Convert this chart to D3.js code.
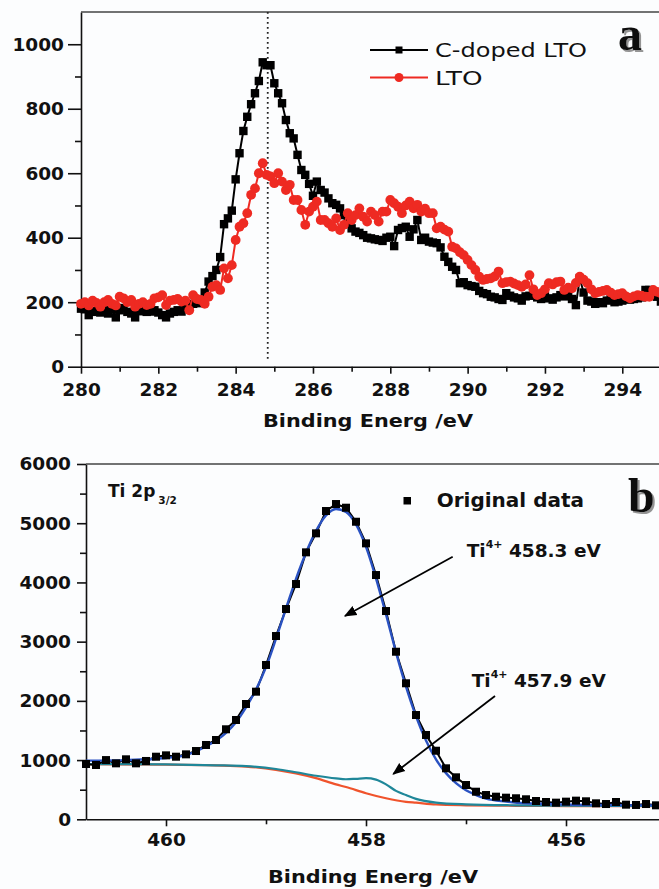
<!DOCTYPE html>
<html lang="en">
<head>
<meta charset="UTF-8">
<title>XPS spectra: C 1s and Ti 2p3/2</title>
<script src="https://d3js.org/d3.v7.min.js"></script>
<style>
  body { margin: 0; background: #fcfdfe; }
  svg { display: block; font-family: 'DejaVu Sans', sans-serif; }
</style>
</head>
<body>
<svg id="chart" width="659" height="889"></svg>
<script>
// ---- panel a: C 1s, 0.1 eV steps from 280.0 to 295.0 ----
const energyA = d3.range(151).map(i => +(280 + i * 0.1).toFixed(1));
const cDopedLTO = [
  180,178,160,170,172,168,175,165,178,153,
  175,182,170,165,153,172,180,170,171,175,
  168,160,153,165,170,175,171,180,185,195,
  200,197,230,264,281,300,340,442,460,484,
  581,662,731,775,814,848,886,944,935,935,
  879,848,817,765,724,708,657,610,595,567,
  530,574,548,540,522,507,502,491,470,445,
  429,419,415,408,400,398,395,393,390,400,
  403,374,424,430,434,403,426,455,393,400,
  388,385,383,370,341,325,310,300,259,262,
  253,250,248,235,228,225,217,215,210,207,
  228,220,215,212,205,218,220,222,215,210,
  218,212,208,215,222,218,222,210,191,274,
  230,205,202,195,200,197,205,210,200,202,
  205,215,208,210,212,215,238,238,225,217,
  202
];
const pureLTO = [
  195,200,190,205,198,186,200,207,195,190,
  217,212,200,207,186,195,200,191,195,212,
  215,222,191,205,207,210,202,205,175,222,
  210,207,195,217,248,253,238,305,274,315,
  393,434,445,476,533,553,600,631,595,590,
  569,600,574,548,564,517,517,486,440,481,
  496,512,455,455,445,434,460,424,440,476,
  455,470,491,465,450,481,470,450,481,481,
  517,507,496,476,500,512,491,502,481,490,
  476,476,429,434,425,419,372,367,355,346,
  331,315,300,279,269,272,274,280,295,259,
  262,264,258,253,248,255,284,240,222,228,
  240,259,255,262,264,238,245,243,260,279,
  270,259,240,228,232,235,238,230,222,225,
  228,218,212,218,222,220,217,217,238,232,
  228
];
const xMajorA = [280, 282, 284, 286, 288, 290, 292, 294];
const xMinorA = [281, 283, 285, 287, 289, 291, 293];
const yMajorA = [0, 200, 400, 600, 800, 1000];
const yMinorA = [100, 300, 500, 700, 900];
const peakLineA = 284.83;

// ---- panel b: Ti 2p3/2, 0.1 eV steps from 460.8 down to 455.1 ----
const energyB = d3.range(58).map(i => +(460.8 - i * 0.1).toFixed(1));
const originalData = [
  934,917,1000,945,1013,945,985,1057,1080,
  1057,1097,1153,1255,1339,1520,1677,1947,2155,2606,
  3095,3551,3973,4508,4829,5206,5324,5262,5025,4660,
  4125,3517,2830,2297,1761,1424,1158,861,709,579,
  466,410,382,365,355,338,309,292,281,298,
  315,304,270,258,292,247,242,258,236
];
const fit458Energy = [460.8,460.4,460.0,459.8,459.6,459.4,
  459.3,459.2,459.1,459.0,458.9,458.8,458.7,458.6,458.5,458.4,458.3,458.2,458.1,458.0,
  457.9,457.8,457.7,457.6,457.5,457.4,457.3,457.2,457.1,457.0,
  456.9,456.8,456.6,456.4,456.0,455.5,455.05];
const fit458 = [990,1000,1035,1085,1230,1460,
  1640,1890,2190,2570,3050,3560,4060,4500,4870,5130,5240,5190,4980,4600,
  4070,3460,2820,2240,1740,1330,1010,780,610,490,
  410,350,300,270,250,240,235];
const fit457Energy = [460.8,460.0,459.5,459.2,458.9,458.7,458.5,458.3,458.2,458.1,458.0,
  457.9,457.8,457.7,457.6,457.5,457.3,457.0,456.5,456.0,455.05];
const fit457 = [932,926,912,898,850,795,735,690,676,684,694,
  670,590,480,410,345,282,252,236,230,226];
const bgEnergy = [460.8,460.0,459.5,459.2,458.9,458.7,458.5,458.3,458.2,458.0,
  457.8,457.6,457.5,457.3,457.0,456.5,456.0,455.05];
const background = [930,924,910,890,835,775,695,590,545,440,
  355,295,280,250,236,228,224,220];
const xMajorB = [460, 458, 456];
const xMinorB = [459, 457];
const yMajorB = [0, 1000, 2000, 3000, 4000, 5000, 6000];
const yMinorB = [500, 1500, 2500, 3500, 4500, 5500];

const svg = d3.select("#chart");
const ink = "#111";

const defs = svg.append("defs");
defs.append("filter").attr("id", "shadow")
  .attr("x", "-20%").attr("y", "-20%").attr("width", "150%").attr("height", "150%")
  .append("feDropShadow")
  .attr("dx", 2).attr("dy", 2).attr("stdDeviation", 0.6)
  .attr("flood-color", "#888").attr("flood-opacity", 0.9);
defs.append("marker")
  .attr("id", "arrow").attr("viewBox", "0 0 10 10").attr("refX", 9).attr("refY", 5)
  .attr("markerWidth", 7).attr("markerHeight", 7).attr("markerUnits", "strokeWidth")
  .attr("orient", "auto")
  .append("path").attr("d", "M0,1 L10,5 L0,9 z").attr("fill", "#000");

function styleAxis(g, fontSize) {
  g.attr("font-family", null).attr("font-size", null);
  g.select(".domain").attr("stroke", ink).attr("stroke-width", 1.6);
  g.selectAll(".tick line").attr("stroke", ink).attr("stroke-width", 1.6);
  g.selectAll(".tick text")
    .attr("fill", ink)
    .style("font-family", "'DejaVu Sans', sans-serif")
    .style("font-weight", "bold")
    .style("font-size", fontSize + "px");
}
function minorAxis(g) {
  g.select(".domain").remove();
  g.selectAll(".tick line").attr("stroke", ink).attr("stroke-width", 1.6);
}
function panelLetter(letter, x, y) {
  svg.append("text")
    .attr("x", x).attr("y", y)
    .attr("font-family", "'Liberation Serif', serif")
    .attr("font-weight", "bold").attr("font-size", 48)
    .attr("fill", ink).attr("filter", "url(#shadow)").text(letter);
}

// ================= panel a =================
const xA = d3.scaleLinear().domain([280, 294.95]).range([81, 659]);
const yA = d3.scaleLinear().domain([0, 1100]).range([366.7, 12]);

svg.append("g").attr("transform", `translate(0,${yA(0)})`)
  .call(d3.axisBottom(xA).tickValues(xMinorA).tickSize(5).tickFormat(""))
  .call(minorAxis);
svg.append("g").attr("transform", `translate(0,${yA(0)})`)
  .call(d3.axisBottom(xA).tickValues(xMajorA).tickSize(7).tickPadding(9)
    .tickSizeOuter(0).tickFormat(d3.format("d")))
  .call(g => styleAxis(g, 18.5));
svg.append("g").attr("transform", `translate(${xA(280)},0)`)
  .call(d3.axisLeft(yA).tickValues(yMinorA).tickSize(6).tickFormat(""))
  .call(minorAxis);
svg.append("g").attr("transform", `translate(${xA(280)},0)`)
  .call(d3.axisLeft(yA).tickValues(yMajorA).tickSize(13).tickPadding(4)
    .tickSizeOuter(0).tickFormat(d3.format("d")))
  .call(g => styleAxis(g, 18.5));
svg.append("line")
  .attr("x1", xA(280)).attr("x2", 659).attr("y1", yA(1100)).attr("y2", yA(1100))
  .attr("stroke", "#444").attr("stroke-width", 1.6);

svg.append("line")
  .attr("x1", xA(peakLineA)).attr("x2", xA(peakLineA))
  .attr("y1", yA(1100)).attr("y2", yA(15))
  .attr("stroke", "#222").attr("stroke-width", 1.8)
  .attr("stroke-dasharray", "1.8,3.2");

const seriesA = [
  { name: "C-doped LTO", values: cDopedLTO, color: "#000", shape: "square" },
  { name: "LTO", values: pureLTO, color: "#ee2a22", shape: "circle" }
];
const lineA = d3.line().x(d => xA(d.e)).y(d => yA(d.v));

seriesA.forEach(s => {
  const pts = energyA.map((e, i) => ({ e, v: s.values[i] }));
  const g = svg.append("g");
  g.append("path").datum(pts).attr("d", lineA)
    .attr("fill", "none").attr("stroke", s.color).attr("stroke-width", 2);
  if (s.shape === "square") {
    g.selectAll("rect").data(pts).join("rect")
      .attr("x", d => xA(d.e) - 4.2).attr("y", d => yA(d.v) - 4.2)
      .attr("width", 8.4).attr("height", 8.4).attr("fill", s.color);
  } else {
    g.selectAll("circle").data(pts).join("circle")
      .attr("cx", d => xA(d.e)).attr("cy", d => yA(d.v)).attr("r", 4.9)
      .attr("fill", s.color);
  }
});

// legend a
seriesA.forEach((s, i) => {
  const y = 50 + i * 27.5;
  svg.append("line").attr("x1", 370).attr("x2", 428).attr("y1", y).attr("y2", y)
    .attr("stroke", s.color).attr("stroke-width", 2.2);
  if (s.shape === "square") {
    svg.append("rect").attr("x", 395.5).attr("y", y - 3.5).attr("width", 7).attr("height", 7)
      .attr("fill", s.color);
  } else {
    svg.append("circle").attr("cx", 399).attr("cy", y).attr("r", 4.5).attr("fill", s.color);
  }
  svg.append("text").attr("x", 435).attr("y", y + 7.3)
    .attr("font-size", 20).attr("fill", ink)
    .attr("textLength", i === 0 ? 152 : 47.5).attr("lengthAdjust", "spacingAndGlyphs")
    .text(s.name);
});

svg.append("text").attr("x", 368).attr("y", 427).attr("text-anchor", "middle")
  .attr("font-weight", "bold").attr("font-size", 18.5).attr("fill", ink)
  .attr("textLength", 210).attr("lengthAdjust", "spacingAndGlyphs")
  .text("Binding Energ /eV");
panelLetter("a", 618, 50);

// ================= panel b =================
const xB = d3.scaleLinear().domain([460.8, 455.07]).range([86, 659]);
const yB = d3.scaleLinear().domain([0, 6000]).range([819.3, 464]);

svg.append("g").attr("transform", `translate(0,${yB(0)})`)
  .call(d3.axisBottom(xB).tickValues(xMinorB).tickSize(5).tickFormat(""))
  .call(minorAxis);
svg.append("g").attr("transform", `translate(0,${yB(0)})`)
  .call(d3.axisBottom(xB).tickValues(xMajorB).tickSize(7).tickPadding(7)
    .tickSizeOuter(0).tickFormat(d3.format("d")))
  .call(g => styleAxis(g, 18.5));
svg.append("g").attr("transform", `translate(${xB(460.8)},0)`)
  .call(d3.axisLeft(yB).tickValues(yMinorB).tickSize(6).tickFormat(""))
  .call(minorAxis);
svg.append("g").attr("transform", `translate(${xB(460.8)},0)`)
  .call(d3.axisLeft(yB).tickValues(yMajorB).tickSize(9).tickPadding(6)
    .tickSizeOuter(0).tickFormat(d3.format("d")))
  .call(g => styleAxis(g, 18.5));
svg.append("line")
  .attr("x1", xB(460.8)).attr("x2", 659).attr("y1", yB(6000)).attr("y2", yB(6000))
  .attr("stroke", "#444").attr("stroke-width", 1.6);

const lineB = d3.line().x(d => xB(d.e)).y(d => yB(d.v)).curve(d3.curveMonotoneX);
const curvesB = [
  { energy: bgEnergy, values: background, color: "#f0532c" },
  { energy: fit457Energy, values: fit457, color: "#1f8799" }
];
curvesB.forEach(c => {
  svg.append("path").datum(c.energy.map((e, i) => ({ e, v: c.values[i] })))
    .attr("d", lineB).attr("fill", "none")
    .attr("stroke", c.color).attr("stroke-width", 2.2);
});

const ptsB = energyB.map((e, i) => ({ e, v: originalData[i] }));
svg.append("path").datum(ptsB)
  .attr("d", d3.line().x(d => xB(d.e)).y(d => yB(d.v)))
  .attr("fill", "none").attr("stroke", "#000").attr("stroke-width", 2);
svg.append("path").datum(fit458Energy.map((e, i) => ({ e, v: fit458[i] })))
  .attr("d", lineB).attr("fill", "none")
  .attr("stroke", "#2a52c2").attr("stroke-width", 2.4);
svg.append("g").selectAll("rect").data(ptsB).join("rect")
  .attr("x", d => xB(d.e) - 4).attr("y", d => yB(d.v) - 4)
  .attr("width", 8).attr("height", 8).attr("fill", "#000");

// legend and annotations b
svg.append("rect").attr("x", 403.5).attr("y", 497).attr("width", 7.5).attr("height", 7.5)
  .attr("fill", "#000");
svg.append("text").attr("x", 436.7).attr("y", 506.7)
  .attr("font-weight", "bold").attr("font-size", 20).attr("fill", ink)
  .text("Original data");

const sub = svg.append("text").attr("x", 108).attr("y", 497)
  .attr("font-weight", "bold").attr("font-size", 17).attr("fill", ink);
sub.append("tspan").text("Ti 2p");
sub.append("tspan").attr("dx", 3).attr("dy", 7).attr("font-size", 10.5).text("3/2");

const annotations = [
  { label: " 458.3 eV", x: 466.7, y: 556.7, from: [452.7, 556.7], to: [345, 616] },
  { label: " 457.9 eV", x: 471.7, y: 686.7, from: [495, 696], to: [393.3, 774] }
];
annotations.forEach(a => {
  const t = svg.append("text").attr("x", a.x).attr("y", a.y)
    .attr("font-weight", "bold").attr("font-size", 18.5).attr("fill", ink);
  t.append("tspan").text("Ti");
  t.append("tspan").attr("dy", -9).attr("font-size", 11).text("4+");
  t.append("tspan").attr("dy", 9).text(a.label);
  svg.append("line")
    .attr("x1", a.from[0]).attr("y1", a.from[1]).attr("x2", a.to[0]).attr("y2", a.to[1])
    .attr("stroke", "#000").attr("stroke-width", 1.8).attr("marker-end", "url(#arrow)");
});

svg.append("text").attr("x", 373).attr("y", 883).attr("text-anchor", "middle")
  .attr("font-weight", "bold").attr("font-size", 18.5).attr("fill", ink)
  .attr("textLength", 210).attr("lengthAdjust", "spacingAndGlyphs")
  .text("Binding Energ /eV");
panelLetter("b", 628, 512);
</script>
</body>
</html>
